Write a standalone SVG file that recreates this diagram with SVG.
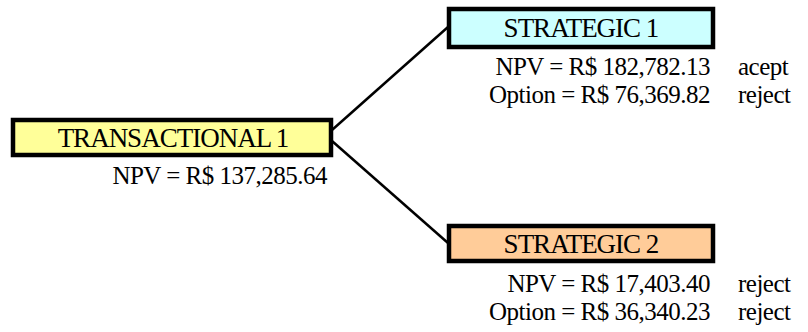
<svg xmlns="http://www.w3.org/2000/svg" width="808" height="332" viewBox="0 0 808 332">
<style>
.box{stroke:#000;stroke-width:4.5}
.lbl{font-family:"Liberation Serif","Times New Roman",serif;font-size:27px;letter-spacing:-1px;text-anchor:middle;fill:#000}
.val{font-family:"Liberation Serif","Times New Roman",serif;font-size:25px;letter-spacing:-0.5px;text-anchor:end;fill:#000}
.st{font-family:"Liberation Serif","Times New Roman",serif;font-size:25px;letter-spacing:-0.5px;fill:#000}
.con{stroke:#000;stroke-width:2.5;fill:none}
</style>
<rect width="808" height="332" fill="#fff"/>
<g id="connectors">
<line class="con" x1="332" y1="130" x2="448" y2="27"/>
<line class="con" x1="332" y1="141" x2="448" y2="243"/>
</g>
<g id="transactional1">
<rect class="box" x="13" y="120" width="318" height="35" fill="#FFFF99"/>
<text class="lbl" x="173" y="147">TRANSACTIONAL 1</text>
<text class="val" x="327" y="184">NPV = R$ 137,285.64</text>
</g>
<g id="strategic1">
<rect class="box" x="449" y="9" width="264" height="38" fill="#CCFFFF"/>
<text class="lbl" x="581" y="37">STRATEGIC 1</text>
<text class="val" x="710" y="75">NPV = R$ 182,782.13</text>
<text class="st" x="738" y="75">acept</text>
<text class="val" x="710" y="103">Option = R$ 76,369.82</text>
<text class="st" x="738" y="103">reject</text>
</g>
<g id="strategic2">
<rect class="box" x="449" y="226" width="264" height="35" fill="#FFCC99"/>
<text class="lbl" x="581" y="253">STRATEGIC 2</text>
<text class="val" x="710" y="292">NPV = R$ 17,403.40</text>
<text class="st" x="738" y="292">reject</text>
<text class="val" x="710" y="320">Option = R$ 36,340.23</text>
<text class="st" x="738" y="320">reject</text>
</g>
</svg>
